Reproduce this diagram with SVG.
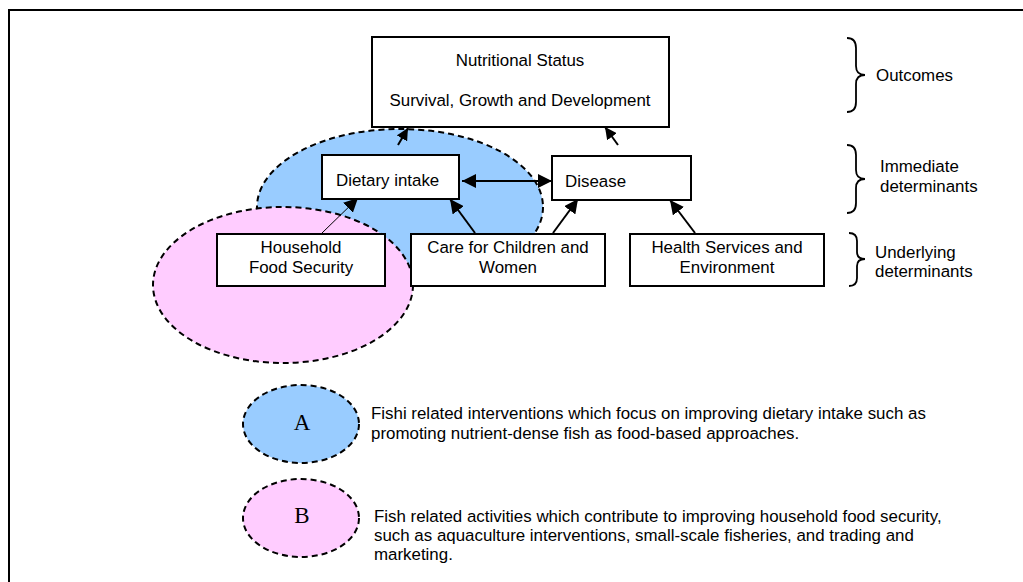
<svg xmlns="http://www.w3.org/2000/svg" width="1023" height="582" viewBox="0 0 1023 582">
<defs>
<marker id="ah" viewBox="0 0 10 10" refX="10" refY="5" markerWidth="12" markerHeight="12" markerUnits="userSpaceOnUse" orient="auto-start-reverse">
<path d="M0,0 L10,5 L0,10 z" fill="#000"/>
</marker>
<marker id="ahL" viewBox="0 0 10 10" refX="10" refY="5" markerWidth="14" markerHeight="14" markerUnits="userSpaceOnUse" orient="auto-start-reverse">
<path d="M0,0 L10,5 L0,10 z" fill="#000"/>
</marker>
</defs>
<style>
text{font-family:"Liberation Sans",Arial,sans-serif;font-size:16.9px;fill:#000}
.box{fill:#fff;stroke:#000;stroke-width:2}
.ell{stroke:#000;stroke-width:2;stroke-dasharray:6 4}
.blue{fill:#99ccff}
.pink{fill:#ffccff}
.c{text-anchor:middle}
.con{stroke:#000;stroke-width:2;fill:none}
.brace{stroke:#000;stroke-width:1.8;fill:none}
.letter{font-family:"Liberation Serif","Times New Roman",serif;font-size:23px}
</style>
<rect width="1023" height="582" fill="#fff"/>
<path d="M9,582 L9,10 L1023,10" fill="none" stroke="#000" stroke-width="2"/>
<g id="ellipseA"><ellipse class="ell blue" cx="400" cy="207" rx="143" ry="78"/></g>
<g id="ellipseB"><ellipse class="ell pink" cx="283" cy="285" rx="130" ry="78"/></g>
<g id="connectors">
<line class="con" x1="398" y1="145" x2="408" y2="128" marker-end="url(#ah)"/>
<line class="con" x1="618" y1="145" x2="605" y2="127" marker-end="url(#ah)"/>
<line class="con" x1="462" y1="181" x2="552" y2="181" marker-start="url(#ahL)" marker-end="url(#ahL)"/>
<line x1="322" y1="233" x2="358" y2="198" stroke="#000" stroke-width="1" marker-end="url(#ahL)"/>
<line class="con" x1="475" y1="233" x2="450" y2="199" marker-end="url(#ahL)"/>
<line class="con" x1="553" y1="233" x2="578" y2="199" marker-end="url(#ahL)"/>
<line class="con" x1="695" y1="233" x2="670" y2="200" marker-end="url(#ahL)"/>
</g>
<g id="nutritional">
<rect class="box" x="372" y="37" width="297" height="90"/>
<text class="c" x="520" y="66">Nutritional Status</text>
<text class="c" x="520" y="106">Survival, Growth and Development</text>
</g>
<g id="dietary">
<rect class="box" x="322" y="155" width="137" height="44"/>
<text x="336" y="186">Dietary intake</text>
</g>
<g id="disease">
<rect class="box" x="552" y="156" width="139" height="44"/>
<text x="565" y="187">Disease</text>
</g>
<g id="household">
<rect class="box" x="217" y="234" width="168" height="52"/>
<text class="c" x="301" y="253">Household</text>
<text class="c" x="301" y="273">Food Security</text>
</g>
<g id="care">
<rect class="box" x="411" y="234" width="194" height="52"/>
<text class="c" x="508" y="253">Care for Children and</text>
<text class="c" x="508" y="273">Women</text>
</g>
<g id="health">
<rect class="box" x="630" y="234" width="194" height="52"/>
<text class="c" x="727" y="253">Health Services and</text>
<text class="c" x="727" y="273">Environment</text>
</g>
<g id="outcomes">
<path class="brace" d="M847,38 Q856,38 856,48 L856,66 Q856,75 865,75 Q856,75 856,84 L856,102 Q856,112 847,112"/>
<text x="876" y="81">Outcomes</text>
</g>
<g id="immediate">
<path class="brace" d="M847,145 Q856,145 856,155 L856,170 Q856,179 865,179 Q856,179 856,188 L856,203 Q856,213 847,213"/>
<text x="880" y="172">Immediate</text>
<text x="880" y="192">determinants</text>
</g>
<g id="underlying">
<path class="brace" d="M849,233 Q857,233 857,241 L857,252 Q857,259 865,259 Q857,259 857,266 L857,278 Q857,286 849,286"/>
<text x="875" y="258">Underlying</text>
<text x="875" y="277">determinants</text>
</g>
<g id="legendA">
<ellipse class="ell blue" cx="301" cy="424" rx="58" ry="39"/>
<text class="letter c" x="302" y="430">A</text>
<text x="371" y="419">Fishi related interventions which focus on improving dietary intake such as</text>
<text x="371" y="439">promoting nutrient-dense fish as food-based approaches.</text>
</g>
<g id="legendB">
<ellipse class="ell pink" cx="301" cy="518" rx="58" ry="39"/>
<text class="letter c" x="302" y="523">B</text>
<text x="374" y="522">Fish related activities which contribute to improving household food security,</text>
<text x="374" y="541">such as aquaculture interventions, small-scale fisheries, and trading and</text>
<text x="374" y="560">marketing.</text>
</g>
</svg>
